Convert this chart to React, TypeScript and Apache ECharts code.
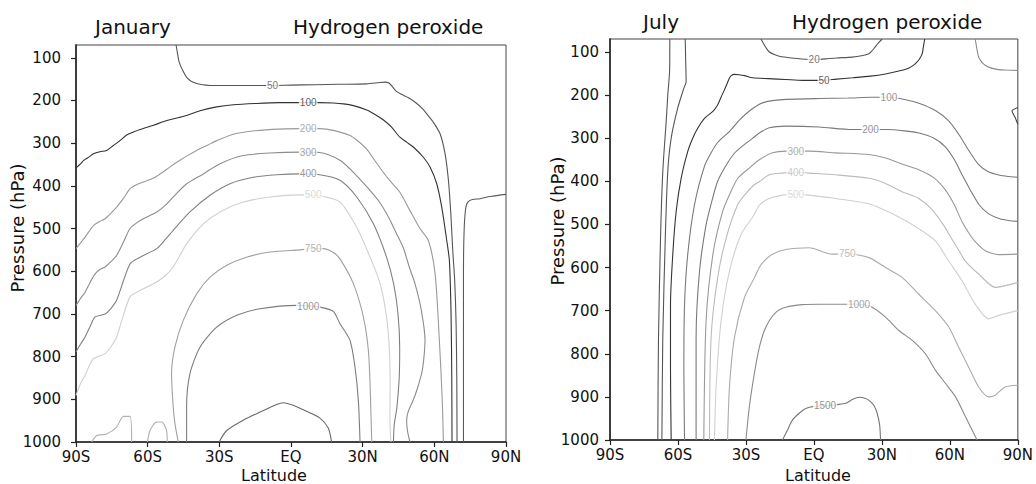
import { useEffect, useRef } from 'react';
import * as echarts from 'echarts';

// ---------- axes ----------
const LAT_TICKS = [-90, -60, -30, 0, 30, 60, 90];
const LAT_TICK_LABELS = ['90S', '60S', '30S', 'EQ', '30N', '60N', '90N'];
const P_TICKS = [100, 200, 300, 400, 500, 600, 700, 800, 900, 1000];

// ---------- January contours [lat, hPa] ----------
const JAN_50 = [[-48.1,70],[-47.5,90],[-46.8,110],[-45.3,130],[-43.5,147],[-41,157],[-37,163],[-30,165],[-20,165],[-10,165],[0,164],[10,163],[20,162],[31.7,161],[37,158],[39.3,157],[41,159],[42.5,168],[44,178],[46,185],[49,193],[52,204],[55,219],[57.5,236],[59.6,251],[62.4,278],[64.5,325],[65.9,387],[66.9,465],[67.7,551],[68.5,620],[69.1,720],[69.4,850],[69.5,1000]];
const JAN_100 = [[-90,358],[-88,348],[-86.9,341],[-84.5,332],[-82.7,325],[-80,320],[-77.2,317],[-74.5,306],[-71.6,294],[-68.8,281],[-66,274],[-63.2,268],[-57.6,258],[-52,247],[-47,240],[-43.7,235],[-38.1,224],[-31.1,215],[-24.1,210],[-15,207],[-5,205],[5,205],[12,205],[17.7,206],[22,208],[26.1,212],[31.7,222],[35,232],[38.6,245],[42,262],[45.6,286],[48.5,298],[51.2,309],[55.4,333],[58.2,356],[61,395],[63.1,450],[65.2,528],[66.3,575],[67,700],[67.3,850],[67.4,1000]];
const JAN_200 = [[-90,547],[-88,533],[-86.2,520],[-82.7,493],[-80,483],[-77.8,477],[-75.5,465],[-73,450],[-70,428],[-67.4,407],[-64.5,397],[-61.8,391],[-58,383],[-54.8,372],[-50.5,355],[-46.5,340],[-43,328],[-39.5,317],[-35,305],[-31.1,294],[-24.1,279],[-15,271],[-5,267],[5,266],[12,266],[17.7,270],[24.7,282],[28,295],[31.7,314],[35,340],[38.6,368],[42,392],[45.6,415],[49.8,458],[54,500],[57.5,528],[60.3,605],[62,750],[63.3,900],[63.8,1000]];
const JAN_300 = [[-90,680],[-88,663],[-86.2,649],[-84,625],[-82,606],[-80,596],[-77.8,590],[-75.5,578],[-73,563],[-70,530],[-67.4,500],[-64.5,486],[-61.8,477],[-56.2,461],[-52.5,445],[-49.3,426],[-43.7,395],[-36.7,372],[-29.7,348],[-20,329],[-8.8,323],[3.8,321],[12,322],[20.5,340],[25,362],[28.9,385],[33,410],[37.3,440],[41,475],[44.2,512],[47,545],[49.5,590],[51.9,629],[54.5,690],[56.1,762],[55.5,810],[54.7,839],[52,890],[49,930],[48.4,950],[48.8,975],[49.8,1000]];
const JAN_400 = [[-90,789],[-88,770],[-86.2,754],[-84,728],[-82,707],[-77.8,700],[-75.5,688],[-73,668],[-70,620],[-67.4,583],[-64.5,571],[-61.8,563],[-56.2,547],[-52.5,525],[-49.3,504],[-42.3,461],[-33.9,422],[-25.5,395],[-15.8,380],[-6,374],[3.8,372],[12,374],[20.5,387],[27.5,426],[34.5,489],[40,567],[43,630],[44.8,700],[45.5,780],[45.3,850],[44.3,920],[43.2,960],[42.9,1000]];
const JAN_500 = [[-90,891],[-88,862],[-86.2,844],[-84.5,822],[-82.7,805],[-77.8,793],[-75.5,778],[-73,754],[-70,700],[-67.4,660],[-64.5,649],[-61.8,641],[-56.2,625],[-52.5,610],[-49.3,590],[-43.7,536],[-36.7,489],[-29.7,461],[-20,438],[-8.8,426],[3.8,421],[12,423],[20.5,438],[27.5,497],[33.1,567],[37.3,629],[40,707],[41.2,786],[41.5,864],[41.4,942],[41.8,1000]];
const JAN_750 = [[-47.2,1000],[-48.5,960],[-49.3,918],[-50,840],[-48.6,778],[-45.1,715],[-39.5,653],[-33.9,614],[-26.9,586],[-18.6,567],[-8.8,555],[3.8,550],[9.3,547],[13.5,547],[17.7,556],[20.5,571],[26.1,629],[30.3,707],[32.4,786],[33.1,864],[33.5,940],[33.8,1000]];
const JAN_1000 = [[-43.7,1000],[-43.7,918],[-42.3,840],[-38.1,778],[-31.1,731],[-22.7,703],[-13,688],[2.4,680],[7.2,681],[12.1,684],[17.7,694],[20.5,723],[24.7,762],[26.8,825],[28.2,903],[28.9,1000]];
const JAN_1500 = [[-30.1,1000],[-26.9,973],[-20,949],[-13,930],[-6,912],[-3.2,908],[0.9,914],[6.5,928],[12.1,944],[15.6,967],[17,1000]];
const JAN_750_B1 = [[-83.4,1000],[-81.3,985],[-77.2,981],[-73,965],[-70.2,940],[-67.4,940],[-66.7,1000]];
const JAN_750_B2 = [[-60.1,1000],[-59,973],[-56.2,953],[-54.1,953],[-52.1,973],[-51.8,1000]];
const JAN_POLAR = [[90,420],[88,421],[83.3,425],[79.1,430],[76,432],[74.2,437],[73.2,450],[72.5,500],[72.2,600],[72.2,800],[72.2,1000]];
const JAN_LABELS: [number, number, string][] = [[-7.7,165,'50'],[7.2,205,'100'],[7.2,266,'200'],[7.2,321,'300'],[7.2,372,'400'],[9.3,421,'500'],[9.3,547,'750'],[7.2,682,'1000']];

// ---------- July contours [lat, hPa] ----------
const JUL_20 = [[-23.4,70],[-22.5,78],[-21.9,84],[-20.8,93],[-19.7,100],[-17.5,106],[-15.3,110],[-10,114],[-3.6,117],[0,118],[5.2,116],[10,114],[16.9,112],[21,109],[24.3,104],[25.5,98],[26.5,92],[28.3,80],[30.1,70]];
const JUL_50 = [[48.9,70],[48.4,85],[47.8,104],[46.5,117],[44.8,127],[43,134],[41.2,139],[37,145],[31.6,151],[25,156],[16.9,160],[10,163],[2.3,166],[-5,166],[-12.4,164],[-20,162],[-27.1,160],[-30.7,155],[-33,153],[-35.1,152],[-36.5,155],[-37.3,161],[-38.3,173],[-39.5,188],[-41,205],[-42.5,223],[-44.6,238],[-48.3,254],[-51.3,277],[-53.5,300],[-55.7,331],[-58.6,393],[-60.8,470],[-62.3,570],[-63.3,686],[-63.3,840],[-63,1000]];
const JUL_100 = [[90,391],[86,389],[82,386],[77,378],[72.5,360],[68.3,328],[63.9,291],[59.5,260],[53.6,236],[46.3,219],[39,209],[33.1,205],[25.7,205],[15,207],[2.3,208],[-12.4,210],[-18.3,213],[-22,217],[-25,224],[-28.5,237],[-32.9,258],[-37,283],[-42.5,310],[-45.5,335],[-48.3,365],[-52.7,454],[-55.7,570],[-57.1,686],[-57.4,840],[-57.1,1000]];
const JUL_200 = [[90,493],[86,491],[82,487],[77,475],[73,455],[69,420],[65.4,385],[62,350],[58,320],[53,300],[46.3,288],[40,283],[31.6,280],[25,280],[16.9,280],[2.3,274],[-12.4,272],[-19.7,276],[-24.1,288],[-27,300],[-31,316],[-35.1,335],[-39,365],[-42.5,400],[-45,445],[-47.6,501],[-50.5,609],[-52,763],[-52,1000]];
const JUL_300 = [[90,569],[81.5,570],[75.6,561],[71.2,540],[69,525],[65.5,495],[62,455],[58,420],[53,392],[46.3,373],[38.9,360],[31.6,346],[24.3,338],[9.6,334],[-2.1,330],[-8,330],[-12.4,330],[-18.3,334],[-24.1,350],[-28,367],[-33.6,393],[-37,428],[-40.3,470],[-44.6,570],[-47.6,725],[-48.6,1000]];
const JUL_400 = [[90,635],[84.4,642],[80,646],[72.7,615],[66.8,585],[64.5,565],[61,535],[57,500],[52,465],[46.3,440],[38.9,424],[31.6,405],[24.3,393],[9.6,385],[-2.1,381],[-8,379],[-13.9,381],[-19.7,385],[-24.1,401],[-26.3,408],[-30,428],[-33.6,454],[-38.7,531],[-42.5,624],[-45.4,763],[-46.1,1000]];
const JUL_500 = [[90,700],[81.5,711],[77.1,719],[71.2,685],[65.4,631],[59.5,585],[53.6,538],[46.3,510],[38.9,487],[31.6,468],[24.3,452],[9.6,440],[-2.1,432],[-8,430],[-13.9,432],[-19.7,440],[-24.1,455],[-26.3,477],[-32.2,524],[-37.3,609],[-41,725],[-43.2,879],[-43.9,1000]];
const JUL_750 = [[90,873],[84.4,877],[80,896],[77.1,900],[72.7,877],[68.3,831],[63.9,785],[59.5,738],[53.6,700],[46.3,662],[38.9,623],[31.6,600],[24.3,577],[14.7,568],[8.1,569],[-2.1,554],[-12.4,558],[-18.3,569],[-22,585],[-24.1,600],[-26.3,624],[-30.7,670],[-35.1,763],[-37.3,879],[-38.1,1000]];
const JUL_1000 = [[72,1000],[66.9,946],[62.5,900],[58.1,869],[53.6,838],[49.2,800],[43.4,769],[37.5,746],[31.6,715],[25.7,692],[19.9,685],[11.1,685],[2.3,685],[-5.1,686],[-12.4,692],[-16.8,704],[-21.2,738],[-24.1,785],[-26.3,846],[-28.5,923],[-30,1000]];
const JUL_1500 = [[-13.9,1000],[-11.5,975],[-9.5,954],[-6.5,938],[-3.6,927],[0,922],[4.9,921],[10,918],[14,915],[17,906],[19.9,901],[22.5,903],[24.3,908],[26.5,920],[27.9,938],[29,965],[29.4,1000]];
const JUL_20_SH_A = [[-63.6,70],[-63.7,145],[-64.5,200],[-65.2,261],[-66.7,377],[-67.7,531],[-68.6,763],[-68.9,1000]];
const JUL_20_SH_B = [[-56.8,70],[-56.6,120],[-56.4,169],[-57.4,184],[-60.1,230],[-63,300],[-64.5,377],[-65.6,531],[-66.7,763],[-67.1,1000]];
const JUL_NP = [[71.2,70],[72,95],[72.7,112],[74,123],[75.6,131],[78,137],[81.5,141],[85,142],[90,143]];
const JUL_NP_SMALL = [[90,229],[87.4,237],[88.8,252],[90,268]];
const JUL_LABELS: [number, number, string][] = [[0.1,118,'20'],[4.5,166,'50'],[33.1,205,'100'],[25,280,'200'],[-8,330,'300'],[-8,379,'400'],[-8,430,'500'],[14.7,568,'750'],[19.9,685,'1000'],[4.9,921,'1500']];

// ---------- styles ----------
const JAN_CONTOURS: [string, number[][]][] = [
  ['50', JAN_50], ['100', JAN_100], ['200', JAN_200], ['300', JAN_300], ['400', JAN_400],
  ['500', JAN_500], ['750', JAN_750], ['1000', JAN_1000], ['1500', JAN_1500],
  ['750b', JAN_750_B1], ['750b', JAN_750_B2], ['polar', JAN_POLAR],
];
const JAN_COLOR: Record<string, string> = {
  '50': '#555', '100': '#333', '200': '#999', '300': '#8c8c8c', '400': '#808080', '500': '#d0d0d0',
  '750': '#a0a0a0', '1000': '#7c7c7c', '1500': '#6a6a6a', '750b': '#b0b0b0', polar: '#5a5a5a',
};
const JUL_CONTOURS: [string, number[][]][] = [
  ['20', JUL_20], ['50', JUL_50], ['100', JUL_100], ['200', JUL_200], ['300', JUL_300],
  ['400', JUL_400], ['500', JUL_500], ['750', JUL_750], ['1000', JUL_1000], ['1500', JUL_1500],
  ['sh', JUL_20_SH_A], ['sh', JUL_20_SH_B], ['np', JUL_NP], ['nps', JUL_NP_SMALL],
];
const JUL_COLOR: Record<string, string> = {
  '20': '#555', '50': '#333', '100': '#7a7a7a', '200': '#7a7a7a', '300': '#999', '400': '#bbb',
  '500': '#d0d0d0', '750': '#aaa', '1000': '#8a8a8a', '1500': '#777', sh: '#555', np: '#888', nps: '#444',
};

const FONT = 'DejaVu Sans';

function buildSeries(contours: [string, number[][]][], colors: Record<string, string>, labels: [number, number, string][], idx: number) {
  const s: any[] = contours.map(([lvl, data]) => ({
    type: 'line', xAxisIndex: idx, yAxisIndex: idx, data, symbol: 'none', showSymbol: false,
    smooth: 0.25, silent: true, clip: true, z: 2,
    lineStyle: { color: colors[lvl], width: 1.1 },
  }));
  s.push({
    type: 'scatter', xAxisIndex: idx, yAxisIndex: idx, symbolSize: 1, silent: true, z: 5,
    itemStyle: { color: 'transparent' },
    data: labels.map(([x, y, t]) => ({
      value: [x, y],
      label: { show: true, formatter: t, color: colors[t] || '#777' },
    })),
    label: {
      show: true, position: 'inside', fontSize: 10, fontFamily: 'Liberation Sans',
      backgroundColor: '#fff', padding: [0, 1], textBorderWidth: 0, textBorderColor: 'transparent',
    },
  });
  return s;
}

function axisX(idx: number) {
  return {
    type: 'value', gridIndex: idx, min: -90, max: 90, interval: 30,
    axisLine: { show: true, onZero: false, lineStyle: { color: '#222', width: 1.5 } },
    axisTick: { show: true, inside: false, length: 5, lineStyle: { color: '#222', width: 1.2 } },
    axisLabel: {
      fontSize: 15, fontFamily: FONT, color: '#111', margin: 7,
      formatter: (v: number) => LAT_TICK_LABELS[LAT_TICKS.indexOf(v)] ?? '',
    },
    splitLine: { show: false },
  };
}
function axisY(idx: number, margin: number) {
  return {
    type: 'value', gridIndex: idx, min: 70, max: 1000, inverse: true,
    axisLine: { show: true, onZero: false, lineStyle: { color: '#333', width: 1.8 } },
    axisTick: { show: true, inside: false, length: 5, customValues: P_TICKS, lineStyle: { color: '#222', width: 1.2 } },
    axisLabel: { fontSize: 15, fontFamily: FONT, color: '#111', margin, customValues: P_TICKS, formatter: (v: number) => String(v) },
    splitLine: { show: false },
  };
}

function txt(text: string, x: number, y: number, size: number, align = 'left', rotation = 0) {
  return {
    type: 'text', x, y, rotation, silent: true,
    style: { text, fontSize: size, fontFamily: FONT, fill: '#111', align, verticalAlign: 'middle' },
  };
}

export default function App() {
  const ref = useRef<HTMLDivElement>(null);
  useEffect(() => {
    document.body.style.margin = '0';
    const chart = echarts.init(ref.current!, null, { renderer: 'svg' });
    chart.setOption({
      animation: false,
      backgroundColor: '#fff',
      grid: [
        { left: 76, top: 45, width: 430, height: 397, show: true, borderColor: '#444', borderWidth: 1, backgroundColor: 'transparent' },
        { left: 610, top: 39, width: 409, height: 401, show: true, borderColor: '#444', borderWidth: 1, backgroundColor: 'transparent' },
      ],
      xAxis: [axisX(0), axisX(1)],
      yAxis: [axisY(0, 15), axisY(1, 11)],
      series: [
        ...buildSeries(JAN_CONTOURS, JAN_COLOR, JAN_LABELS, 0),
        ...buildSeries(JUL_CONTOURS, JUL_COLOR, JUL_LABELS, 1),
      ],
      graphic: [
        txt('January', 95, 27, 20),
        txt('Hydrogen peroxide', 293, 27, 20),
        txt('July', 643, 22, 20),
        txt('Hydrogen peroxide', 792, 22, 20),
        txt('Latitude', 274, 475.5, 16, 'center'),
        txt('Latitude', 818, 475.5, 16, 'center'),
        txt('Pressure (hPa)', 17, 228, 18, 'center', Math.PI / 2),
        txt('Pressure (hPa)', 557, 221, 18, 'center', Math.PI / 2),
      ],
    });
    return () => chart.dispose();
  }, []);
  return <div ref={ref} style={{ width: 1036, height: 484 }} />;
}
